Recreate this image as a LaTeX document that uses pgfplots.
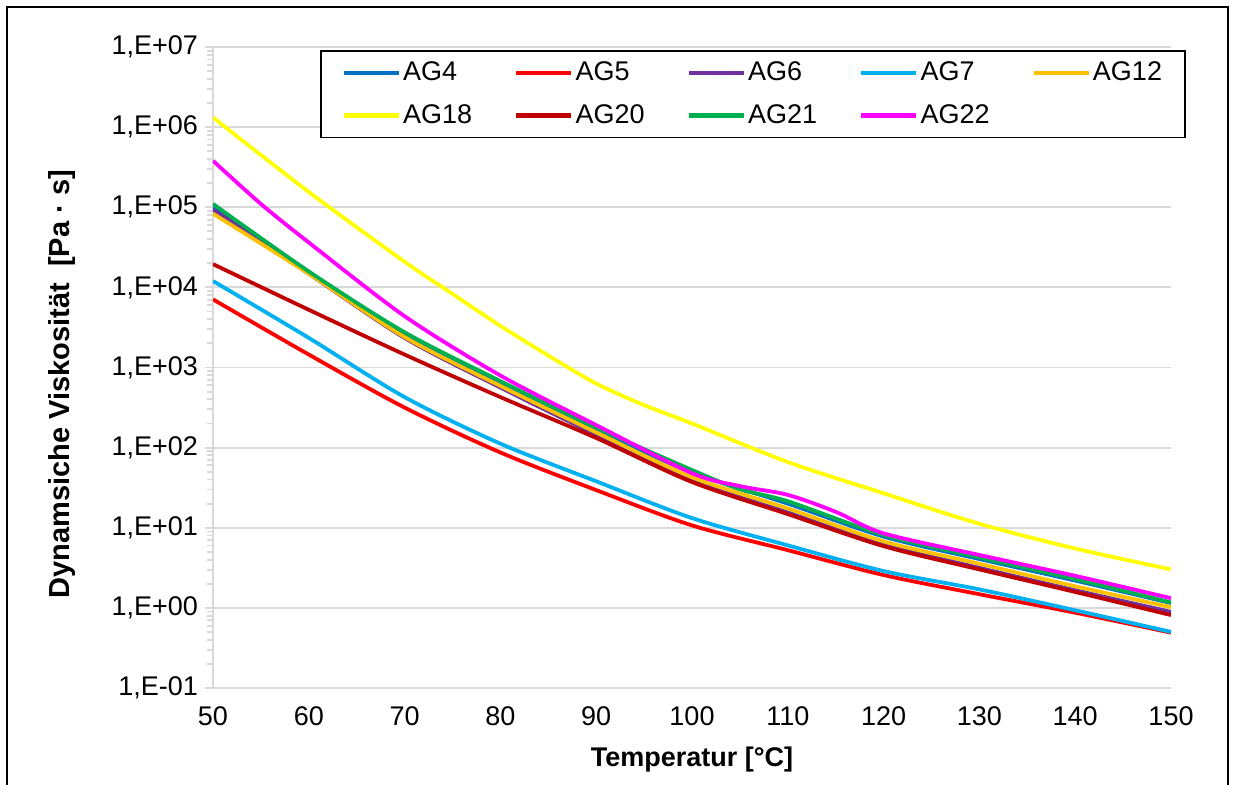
\documentclass[border=0pt]{standalone}
\usepackage{fontspec}
\setmainfont{Liberation Sans}
\usepackage{pgfplots}
\pgfplotsset{compat=1.18}
\definecolor{cAGa}{RGB}{0,112,192}
\definecolor{cAGb}{RGB}{255,0,0}
\definecolor{cAGc}{RGB}{112,48,160}
\definecolor{cAGd}{RGB}{0,176,240}
\definecolor{cAGe}{RGB}{255,192,0}
\definecolor{cAGf}{RGB}{255,255,0}
\definecolor{cAGg}{RGB}{192,0,0}
\definecolor{cAGh}{RGB}{0,176,80}
\definecolor{cAGi}{RGB}{255,0,255}
\definecolor{gridgray}{RGB}{217,217,217}
\begin{document}
\begin{tikzpicture}
\useasboundingbox (-106.5pt,-48.5pt) rectangle (511pt,344pt);
\draw[black, line width=0.6pt] (-103pt,-60pt) -- (-103pt,340.5pt) -- (507.5pt,340.5pt) -- (507.5pt,-60pt);
\begin{axis}[
  at={(0pt,0pt)}, anchor=south west,
  scale only axis, width=479pt, height=320.5pt,
  xmin=50, xmax=150, ymin=1e-1, ymax=1e7, ymode=log,
  xtick={50,60,70,80,90,100,110,120,130,140,150},
  xticklabels={50,60,70,80,90,100,110,120,130,140,150},
  ytick={1e-1,1e0,1e1,1e2,1e3,1e4,1e5,1e6,1e7},
  yticklabels={{1,E-01},{1,E+00},{1,E+01},{1,E+02},{1,E+03},{1,E+04},{1,E+05},{1,E+06},{1,E+07}},
  axis x line=bottom, axis y line=left,
  axis line style={-, draw=gridgray, line width=0.9pt},
  ymajorgrids, grid style={draw=gridgray, line width=0.9pt},
  minor tick num=0, yminorgrids=false,
  tick align=outside,
  xtick style={draw=none},
  ytick style={draw=gridgray, line width=0.9pt},
  major tick length=4pt,
  tick label style={font=\fontsize{13.5}{15}\selectfont},
  xticklabel style={yshift=-2pt},
  xlabel={Temperatur [°C]},
  ylabel={Dynamsiche Viskosität\ \ [Pa · s]},
  xlabel style={font=\bfseries\fontsize{13.5}{15}\selectfont, at={(axis description cs:0.5,-0.1123)}, anchor=center},
  ylabel style={font=\bfseries\fontsize{14.5}{16}\selectfont, at={(axis description cs:-0.1576,0.474)}, anchor=center},
  legend columns=5,
  legend cell align=left,
  legend style={at={(axis description cs:0.1117,0.9953)}, anchor=north west,
    draw=black, line width=0.8pt, font=\fontsize{13.5}{16}\selectfont,
    inner xsep=10.5pt, inner ysep=3.5pt,
    nodes={inner xsep=1pt, inner ysep=2pt},
    row sep=6.5pt,
    /tikz/every even column/.append style={column sep=20pt}},
  legend image code/.code={\draw[#1, line width=2.2pt] (0pt,0pt) -- (27.5pt,0pt);},
  every axis plot/.append style={line width=1.9pt, smooth, no markers},
]
\addplot[cAGa] coordinates {(50,1.0e5) (60,1.55e4) (70,2.63e3) (80,631) (90,166) (100,49.0) (110,20.0) (120,7.76) (130,4.07) (140,2.19) (150,1.15)};
\addlegendentry{AG4}
\addplot[cAGb] coordinates {(50,7.08e3) (60,1.45e3) (70,316) (80,87) (90,29.5) (100,10.7) (110,5.25) (120,2.57) (130,1.48) (140,0.871) (150,0.490)};
\addlegendentry{AG5}
\addplot[cAGc] coordinates {(50,9.33e4) (60,1.48e4) (70,2.34e3) (80,562) (90,145) (100,38.9) (110,15.5) (120,6.17) (130,3.16) (140,1.66) (150,0.891)};
\addlegendentry{AG6}
\addplot[cAGd] coordinates {(50,1.20e4) (60,2.34e3) (70,427) (80,112) (90,38) (100,13.2) (110,6.03) (120,2.88) (130,1.70) (140,0.933) (150,0.501)};
\addlegendentry{AG7}
\addplot[cAGe] coordinates {(50,8.32e4) (60,1.48e4) (70,2.40e3) (80,589) (90,155) (100,42.7) (110,17.4) (120,6.76) (130,3.55) (140,1.86) (150,1.02)};
\addlegendentry{AG12}
\addplot[cAGf] coordinates {(50,1.32e6) (60,1.55e5) (70,2.09e4) (75,8.3e3) (80,3.31e3) (85,1.41e3) (90,631) (95,339) (100,200) (110,66.1) (120,26.9) (130,11.2) (140,5.50) (150,3.02)};
\addlegendentry{AG18}
\addplot[cAGg] coordinates {(50,1.95e4) (60,5.25e3) (70,1.45e3) (80,427) (90,132) (100,37.2) (110,14.8) (120,5.89) (130,3.02) (140,1.58) (150,0.813)};
\addlegendentry{AG20}
\addplot[cAGh] coordinates {(50,1.10e5) (60,1.58e4) (70,2.75e3) (80,676) (90,178) (100,52.5) (105,30.2) (110,21.4) (120,8.13) (130,4.27) (140,2.29) (150,1.17)};
\addlegendentry{AG21}
\addplot[cAGi] coordinates {(50,3.80e5) (55,1.10e5) (60,3.63e4) (70,4.37e3) (80,794) (90,191) (100,47.9) (105,33.1) (110,25.7) (115,15.8) (120,8.51) (130,4.57) (140,2.51) (150,1.32)};
\addlegendentry{AG22}
\end{axis}
\end{tikzpicture}
\end{document}
